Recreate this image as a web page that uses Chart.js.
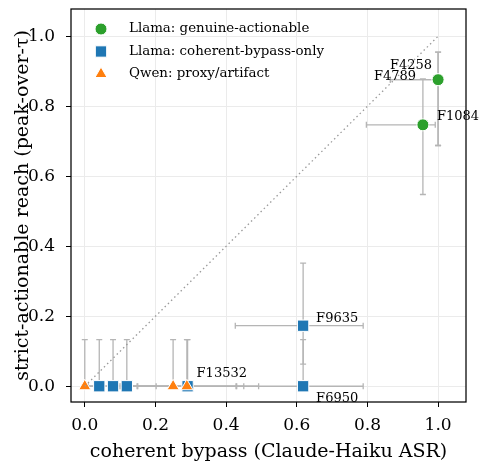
<!DOCTYPE html>
<html>
<head>
<meta charset="utf-8">
<script src="https://cdn.jsdelivr.net/npm/chart.js@4.4.1/dist/chart.umd.min.js"></script>
<style>
  html, body { margin: 0; padding: 0; background: #fff; }
  #wrap { width: 484px; height: 464px; }
</style>
</head>
<body>
<div id="wrap"><canvas id="chart" width="484" height="464"></canvas></div>
<script>
// ---- data ----
const xTicks = [0.0, 0.2, 0.4, 0.6, 0.8, 1.0];
const yTicks = [0.0, 0.2, 0.4, 0.6, 0.8, 1.0];

// Llama: genuine-actionable
const genuineNames = ['F4258', 'F4789', 'F1084'];
const genuineX   = [1.0, 1.0, 0.957];
const genuineY   = [0.876, 0.876, 0.747];
const genuineXLo = [0.865, 0.865, 0.797];
const genuineXHi = [1.0, 1.0, 0.992];
const genuineYLo = [0.688, 0.688, 0.548];
const genuineYHi = [0.955, 0.955, 0.878];

// Llama: coherent-bypass-only
const bypassNames = ['', '', '', 'F13532', 'F6950', 'F9635'];
const bypassX   = [0.041, 0.08, 0.119, 0.291, 0.618, 0.618];
const bypassY   = [0.0, 0.0, 0.0, 0.0, 0.0, 0.173];
const bypassXLo = [0.0, 0.01, 0.03, 0.15, 0.43, 0.426];
const bypassXHi = [0.148, 0.202, 0.307, 0.492, 0.788, 0.788];
const bypassYLo = [0.0, 0.0, 0.0, 0.0, 0.0, 0.063];
const bypassYHi = [0.133, 0.133, 0.133, 0.133, 0.133, 0.352];

// Qwen: proxy/artifact
const proxyNames = ['', '', ''];
const proxyX   = [0.0, 0.25, 0.289];
const proxyY   = [0.0, 0.0, 0.0];
const proxyXLo = [0.0, 0.1, 0.13];
const proxyXHi = [0.1, 0.428, 0.45];
const proxyYLo = [0.0, 0.0, 0.0];
const proxyYHi = [0.133, 0.133, 0.133];

// label placement (pixel offsets from the point, text alignment)
const labelPlace = {
  F4258:  { dx: -6, dy: -11, align: 'right' },
  F4789:  { dx: -22, dy: 0, align: 'right' },
  F1084:  { dx: 14, dy: -5, align: 'left' },
  F9635:  { dx: 13, dy: -4, align: 'left' },
  F6950:  { dx: 13, dy: 16, align: 'left' },
  F13532: { dx: 9, dy: -9, align: 'left' }
};

const SERIF = '"DejaVu Serif", serif';

function makePoints(xs, ys, xlo, xhi, ylo, yhi, names) {
  var pts = [];
  for (var i = 0; i < xs.length; i++) {
    pts.push({ x: xs[i], y: ys[i], xlo: xlo[i], xhi: xhi[i], ylo: ylo[i], yhi: yhi[i], name: names[i] });
  }
  return pts;
}

const errorBars = {
  id: 'errorBars',
  beforeDatasetsDraw(chart) {
    const { ctx, scales: { x, y } } = chart;
    const cap = 3;
    ctx.save();
    ctx.strokeStyle = '#b5b5b5';
    ctx.lineWidth = 1.3;
    chart.data.datasets.forEach(ds => {
      if (!ds.errBars) return;
      ds.data.forEach(p => {
        const px = x.getPixelForValue(p.x), py = y.getPixelForValue(p.y);
        const x0 = x.getPixelForValue(p.xlo), x1 = x.getPixelForValue(p.xhi);
        const y0 = y.getPixelForValue(p.ylo), y1 = y.getPixelForValue(p.yhi);
        ctx.beginPath();
        ctx.moveTo(x0, py); ctx.lineTo(x1, py);
        ctx.moveTo(x0, py - cap); ctx.lineTo(x0, py + cap);
        ctx.moveTo(x1, py - cap); ctx.lineTo(x1, py + cap);
        ctx.moveTo(px, y0); ctx.lineTo(px, y1);
        ctx.moveTo(px - cap, y0); ctx.lineTo(px + cap, y0);
        ctx.moveTo(px - cap, y1); ctx.lineTo(px + cap, y1);
        ctx.stroke();
      });
    });
    ctx.restore();
  }
};

const extras = {
  id: 'extras',
  afterDraw(chart) {
    const { ctx, chartArea: a, scales: { x, y } } = chart;
    ctx.save();
    // point labels
    ctx.fillStyle = '#000';
    ctx.font = '13px ' + SERIF;
    ctx.textBaseline = 'alphabetic';
    chart.data.datasets.forEach(ds => {
      if (!ds.errBars) return;
      ds.data.forEach(p => {
        const pl = labelPlace[p.name];
        if (!pl) return;
        ctx.textAlign = pl.align;
        ctx.fillText(p.name, x.getPixelForValue(p.x) + pl.dx, y.getPixelForValue(p.y) + pl.dy);
      });
    });
    // legend, inside the axes, no frame
    ctx.font = '13.4px ' + SERIF;
    ctx.textAlign = 'left';
    ctx.textBaseline = 'middle';
    chart.data.datasets.forEach((ds, i) => {
      if (!ds.errBars) return;
      const ly = a.top + 20 + i * 22.5;
      const lx = a.left + 30;
      ctx.fillStyle = ds.backgroundColor;
      ctx.strokeStyle = '#fff';
      ctx.lineWidth = 1;
      Chart.helpers.drawPoint(ctx, { pointStyle: ds.pointStyle, radius: ds.pointRadius, rotation: 0, borderWidth: 1 }, lx, ly);
      ctx.fillStyle = '#000';
      ctx.fillText(ds.label, lx + 28, ly);
    });
    // axes box
    ctx.strokeStyle = '#000';
    ctx.lineWidth = 1.25;
    ctx.strokeRect(a.left, a.top, a.right - a.left, a.bottom - a.top);
    ctx.restore();
  }
};

const ctx = document.getElementById('chart');
new Chart(ctx, {
  type: 'scatter',
  data: {
    datasets: [
      {
        label: 'Llama: genuine-actionable',
        data: makePoints(genuineX, genuineY, genuineXLo, genuineXHi, genuineYLo, genuineYHi, genuineNames),
        errBars: true,
        pointStyle: 'circle',
        pointRadius: 6,
        backgroundColor: '#2ca02c',
        borderColor: '#ffffff',
        borderWidth: 1,
        order: 3
      },
      {
        label: 'Llama: coherent-bypass-only',
        data: makePoints(bypassX, bypassY, bypassXLo, bypassXHi, bypassYLo, bypassYHi, bypassNames),
        errBars: true,
        pointStyle: 'rect',
        pointRadius: 8,
        backgroundColor: '#1f77b4',
        borderColor: '#ffffff',
        borderWidth: 1,
        order: 2
      },
      {
        label: 'Qwen: proxy/artifact',
        data: makePoints(proxyX, proxyY, proxyXLo, proxyXHi, proxyYLo, proxyYHi, proxyNames),
        errBars: true,
        pointStyle: 'triangle',
        pointRadius: 7,
        backgroundColor: '#ff7f0e',
        borderColor: '#ffffff',
        borderWidth: 1,
        order: 1
      },
      {
        type: 'line',
        label: 'y = x',
        data: [{ x: 0, y: 0 }, { x: 1, y: 1 }],
        borderColor: '#9a9a9a',
        borderWidth: 1.3,
        borderDash: [1.5, 3],
        pointRadius: 0,
        fill: false,
        order: 0
      }
    ]
  },
  options: {
    responsive: false,
    animation: false,
    layout: { padding: { top: 7, right: 18, left: 0, bottom: 0 } },
    plugins: {
      legend: { display: false },
      tooltip: { enabled: false }
    },
    scales: {
      x: {
        type: 'linear',
        min: -0.039,
        max: 1.079,
        afterBuildTicks: s => { s.ticks = xTicks.map(v => ({ value: v })); },
        afterFit: s => { s.height = 62; s.paddingLeft = 0; s.paddingRight = 0; },
        ticks: { callback: v => v.toFixed(1), color: '#000', padding: 8, font: { family: SERIF, size: 17 } },
        grid: { color: '#ebebeb', tickColor: '#000', tickLength: 5 },
        border: { display: false },
        title: { display: true, text: 'coherent bypass (Claude-Haiku ASR)', color: '#000', padding: { top: 0, bottom: 1 }, font: { family: SERIF, size: 19 } }
      },
      y: {
        type: 'linear',
        min: -0.045,
        max: 1.078,
        afterBuildTicks: s => { s.ticks = yTicks.map(v => ({ value: v })); },
        afterFit: s => { s.width = 71; s.paddingTop = 0; s.paddingBottom = 0; },
        ticks: { callback: v => v.toFixed(1), color: '#000', padding: 11, font: { family: SERIF, size: 17 } },
        grid: { color: '#ebebeb', tickColor: '#000', tickLength: 5 },
        border: { display: false },
        title: { display: true, text: 'strict-actionable reach (peak-over-τ)', color: '#000', padding: { top: 12, bottom: 0 }, font: { family: SERIF, size: 19 } }
      }
    }
  },
  plugins: [errorBars, extras]
});
</script>
</body>
</html>
